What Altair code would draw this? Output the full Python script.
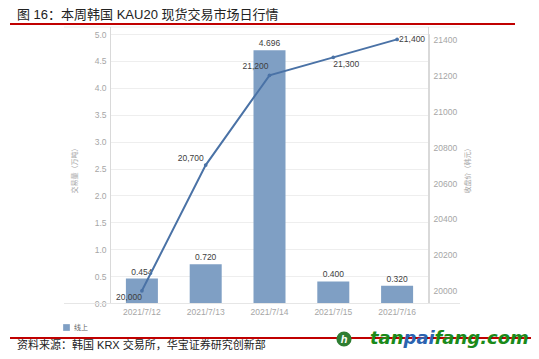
import altair as alt
import pandas as pd

dates = ["2021/7/12", "2021/7/13", "2021/7/14", "2021/7/15", "2021/7/16"]
volume = [0.454, 0.720, 4.696, 0.400, 0.320]
price = [20000, 20700, 21200, 21300, 21400]
series = ["线上"] * 5

df = pd.DataFrame({"date": dates, "volume": volume, "price": price, "series": series})

FONT = "Liberation Sans, Noto Sans CJK SC, sans-serif"
BAR = "#7f9fc4"
LINE = "#4a72a6"
AX = "#a6a6a6"
OX, OY = 110, 34  # plot origin in page px (for decorations only)

base = alt.Chart(df)
xenc = alt.X("date:N", sort=None,
             scale=alt.Scale(paddingInner=0.5, paddingOuter=0.25),
             axis=alt.Axis(title=None, labelAngle=0, ticks=False, domainColor="#d9d9d9",
                           labelColor=AX, labelFontSize=8.5, labelPadding=4, labelFont=FONT))

yleft = alt.Y("volume:Q", scale=alt.Scale(domain=[0, 5], nice=False),
              axis=alt.Axis(orient="left", title="交易量（万吨）", titleFontSize=7,
                            titleColor=AX, titleFontWeight="normal", titlePadding=17,
                            values=[i * 0.5 for i in range(11)], format=".1f",
                            ticks=False, domainColor="#d9d9d9", gridColor="#eeeeee",
                            labelColor=AX, labelFontSize=8.5, labelPadding=4, labelFont=FONT))

bars = base.mark_bar(size=32).encode(
    x=xenc, y=yleft,
    color=alt.Color("series:N", scale=alt.Scale(range=[BAR]),
                    legend=alt.Legend(title=None, orient="none", legendX=-47, legendY=290,
                                      symbolType="square", symbolSize=45, labelFontSize=7,
                                      labelColor="#666666", labelFont=FONT, symbolStrokeWidth=0)))
barlabels = base.mark_text(dy=-7, fontSize=8.5, color="#404040", font=FONT).encode(
    x=xenc, y=yleft, text=alt.Text("volume:Q", format=".3f"))
left = alt.layer(bars, barlabels)

yright = alt.Y("price:Q", scale=alt.Scale(domain=[19932, 21430], nice=False, zero=False),
               axis=alt.Axis(orient="right", title="收盘价（韩元）", titleFontSize=7,
                             titleColor=AX, titleFontWeight="normal", titlePadding=14,
                             titleAngle=270, titleBaseline="bottom",
                             values=list(range(20000, 21401, 200)), format="d", grid=False,
                             ticks=False, domainColor="#d9d9d9",
                             labelColor=AX, labelFontSize=8.5, labelPadding=4, labelFont=FONT))

line = base.mark_line(color=LINE, strokeWidth=2).encode(x=xenc, y=yright)
pts = base.mark_point(filled=True, size=14, color=LINE, opacity=1).encode(x=xenc, y=yright)

label_styles = [("right", 0, 6), ("right", -2, -7), ("right", -1, -9), ("left", 0, 7), ("left", 2, 0)]
plabels = []
for d, (al, dx, dy) in zip(dates, label_styles):
    plabels.append(base.transform_filter(alt.datum.date == d).mark_text(
        align=al, dx=dx, dy=dy, fontSize=8.5, color="#404040", font=FONT).encode(
        x=xenc, y=yright, text=alt.Text("price:Q", format=",.0f")))
right = alt.layer(line, pts, *plabels)

one = alt.Chart(pd.DataFrame({"a": [0]}))

def rule(x1, x2, y1, y2, color, w):
    return one.mark_rule(color=color, strokeWidth=w).encode(
        x=alt.value(x1 - OX), x2=alt.value(x2 - OX), y=alt.value(y1 - OY), y2=alt.value(y2 - OY))

def text(s, x, y, size, color, weight="normal", align="left", style="normal", font=FONT):
    return one.mark_text(text=s, align=align, baseline="middle", fontSize=size, color=color,
                         fontWeight=weight, fontStyle=style, font=font).encode(
        x=alt.value(x - OX), y=alt.value(y - OY))

LOGO = "DejaVu Sans"
decor = [
    text("图 16：本周韩国 KAU20 现货交易市场日行情", 17, 15, 13, "#222222"),
    rule(10, 515, 24, 24, "#c00000", 2),
    rule(64, 460, 27, 27, "#ececec", 1),
    rule(64, 460, 303.5, 303.5, "#e6e6e6", 1),
    rule(110.5, 110.5, 27, 303, "#d9d9d9", 1),
    rule(428.5, 428.5, 27, 303, "#d9d9d9", 1),
    rule(10, 536, 338, 338, "#c00000", 2),
    text("资料来源：韩国 KRX 交易所，华宝证券研究创新部", 17, 345.5, 11, "#222222"),
    one.mark_point(filled=True, shape="circle", size=230, color="#2e7d32", opacity=1).encode(
        x=alt.value(344 - OX), y=alt.value(339 - OY)),
    text("h", 344, 340, 11, "#ffffff", weight="bold", align="center", style="italic"),
    text("tan", 370, 339, 18, "#1a8a1a", weight="bold", style="italic", font=LOGO),
    text("pai", 403.5, 339, 18, "#2b63b0", weight="bold", style="italic", font=LOGO),
    text("fang.com", 434.5, 339, 18, "#1a8a1a", weight="bold", style="italic", font=LOGO),
]

chart = alt.layer(left, right, *decor).resolve_scale(y="independent").properties(
    width=319, height=269,
    autosize=alt.AutoSizeParams(type="none"),
    padding={"left": 102, "top": 26, "right": 102, "bottom": 48},
).configure_view(stroke=None).configure(font=FONT, background="white")

chart.save("out.html", embed_options={"renderer": "svg", "actions": False})
